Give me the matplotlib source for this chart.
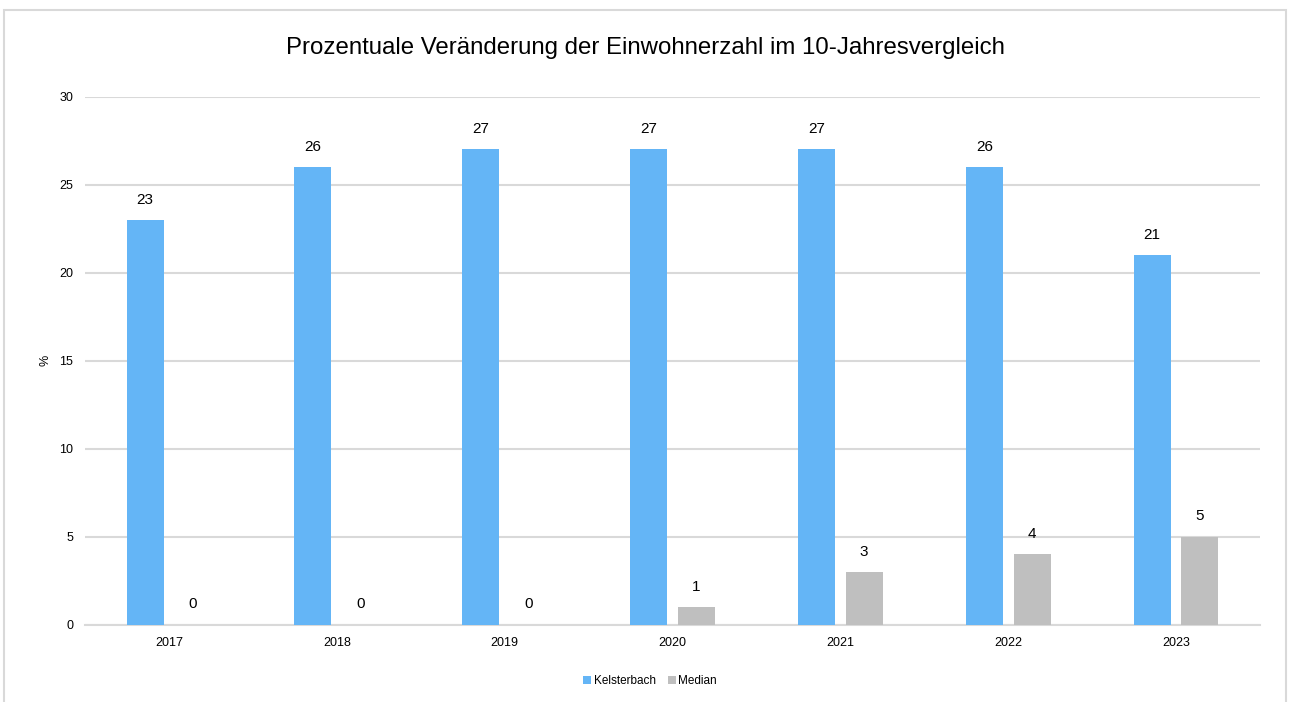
import matplotlib
matplotlib.use('Agg')
import matplotlib.pyplot as plt
import numpy as np
from matplotlib.patches import Rectangle

# Chart data
years = ['2017', '2018', '2019', '2020', '2021', '2022', '2023']
kelsterbach = [23, 26, 27, 27, 27, 26, 21]
median = [0, 0, 0, 1, 3, 4, 5]

blue = '#64B5F6'
grey = '#BFBFBF'
grid_col = '#D9D9D9'

plt.rcParams['font.family'] = ['Liberation Sans', 'DejaVu Sans']

fig = plt.figure(figsize=(12.9, 7.02), dpi=100)
ax = fig.add_axes([85 / 1290, 1 - 624.5 / 702, 1175 / 1290, (624.5 - 96.7) / 702])

# Light frame round the chart
fig.patches.append(Rectangle((4 / 1290, -0.05), 1282 / 1290, 1.05 - 10 / 702,
                             transform=fig.transFigure, fill=False,
                             edgecolor='#D9D9D9', linewidth=1.5))

x = np.arange(len(years))
w = 0.22
off = 0.142
b1 = ax.bar(x - off, kelsterbach, w, color=blue, label='Kelsterbach', zorder=3)
b2 = ax.bar(x + off, median, w, color=grey, label='Median', zorder=3)

for bars, vals in ((b1, kelsterbach), (b2, median)):
    for rect, v in zip(bars, vals):
        ax.annotate(str(v), (rect.get_x() + rect.get_width() / 2, v),
                    xytext=(0, 14.5), textcoords='offset points',
                    ha='center', va='center', fontsize=11, color='#000000')

ax.set_xlim(-0.5, len(years) - 0.5)
ax.set_ylim(0, 30)
ax.set_yticks([0, 5, 10, 15, 20, 25, 30])
ax.set_xticks(x)
ax.set_xticklabels(years)
ax.tick_params(axis='both', length=0, labelsize=9, colors='#000000')
ax.tick_params(axis='y', pad=8.5)
ax.tick_params(axis='x', pad=9)
ax.yaxis.grid(True, color=grid_col, linewidth=1.5, zorder=0)
ax.set_axisbelow(True)
for s in ['top', 'right', 'left']:
    ax.spines[s].set_visible(False)
ax.spines['bottom'].set_color(grid_col)
ax.spines['bottom'].set_linewidth(1.5)

ax.set_ylabel('%', fontsize=9)
ax.yaxis.set_label_coords((51 - 85) / 1175, 0.5)

fig.text(0.5, 1 - 48 / 702, 'Prozentuale Veränderung der Einwohnerzahl im 10-Jahresvergleich',
         ha='center', va='center', fontsize=17.3)

fig.legend(loc='center', bbox_to_anchor=(650 / 1290, 1 - 681 / 702), ncol=2, frameon=False,
           fontsize=8.5, handlelength=0.7, handleheight=0.7, handletextpad=0.2,
           columnspacing=1.0)

fig.savefig('out.png', dpi=100)
